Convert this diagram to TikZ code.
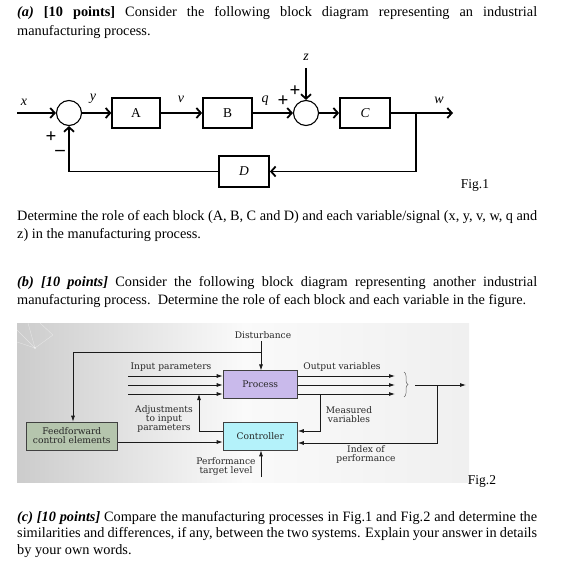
\documentclass[tikz,border=0pt]{standalone}
\usepackage{fontspec}
\setmainfont{Liberation Serif}
\newfontfamily\figfont{DejaVu Serif}
\usetikzlibrary{arrows.meta,decorations.pathreplacing}
\definecolor{proccol}{HTML}{C9BAEB}
\definecolor{ctrlcol}{HTML}{B4F2FA}
\definecolor{ffcol}{HTML}{B5C5AD}
\definecolor{fline}{HTML}{1A1A1A}
\begin{document}
\begin{tikzpicture}[x=1pt,y=-1pt,
  para/.style={anchor=base west, inner sep=0pt, text width=520pt, align=justify},
  blk/.style={draw, line width=1.8pt, minimum height=30pt, inner sep=0pt, font=\fontsize{13.5}{15}\selectfont},
  sumj/.style={circle, draw, line width=1.1pt, minimum size=25pt, inner sep=0pt},
  sig/.style={line width=1.8pt, -{Straight Barb[length=4.5pt,width=10pt]}},
  lbl/.style={font=\fontsize{14}{15}\selectfont\itshape, inner sep=0pt},
  pls/.style={font=\fontsize{19}{19}\selectfont\bfseries, inner sep=0pt},
  fbox/.style={draw=black!75, line width=0.6pt, minimum width=74.5pt, minimum height=27.5pt, inner sep=0pt, text=black!85, font=\figfont\fontsize{9.1}{9}\selectfont},
  ftxt/.style={font=\figfont\fontsize{9.1}{9.3}\selectfont, text=black!85, inner sep=0pt, align=center},
  arr/.style={draw=fline, line width=0.8pt, -{Latex[length=6pt,width=4pt]}},
  figl/.style={font=\fontsize{13.5}{14}\selectfont, inner sep=0pt},
  deco/.style={white, opacity=0.45, line width=0.4pt}
]
\useasboundingbox (0,0) rectangle (562,575);
\fill[white] (0,0) rectangle (562,575);

% ---------- texts ----------
\node[para, font=\fontsize{14.3}{18.5}\selectfont] (ta) at (17,16.7)
  {\textbf{\textit{(a)} [10 points]} Consider the following block diagram representing an industrial\linebreak manufacturing process.};
\node[para, font=\fontsize{14.3}{18}\selectfont] (td) at (17,220)
  {Determine the role of each block (A, B, C and D) and each variable/signal (x, y, v, w, q and\linebreak z) in the manufacturing process.};
\node[para, font=\fontsize{14.3}{18}\selectfont] (tb) at (17,286)
  {\textbf{\textit{(b) [10 points]}} Consider the following block diagram representing another industrial\linebreak manufacturing process.\ \ Determine the role of each block and each variable in the figure.};
\node[para, font=\fontsize{14.3}{16.7}\selectfont] (tc) at (17,521)
  {\textbf{\textit{(c) [10 points]}} Compare the manufacturing processes in Fig.1 and Fig.2 and determine the\linebreak similarities and differences, if any, between the two systems. Explain your answer in details\linebreak by your own words.};

% ---------- Fig.1 ----------
\node[sumj] (s1) at (69,113) {};
\node[sumj] (s2) at (306,113) {};
\node[blk, minimum width=47.5pt] (A) at (136,113) {A};
\node[blk, minimum width=49pt] (B) at (227.5,113) {B};
\node[blk, minimum width=50pt] (C) at (365,113) {\itshape C};
\node[blk, minimum width=50pt, minimum height=31pt] (D) at (244,171.5) {\itshape D};
\coordinate (xin) at (17,113);
\coordinate (wout) at (453,113);
\coordinate (br) at (416,113);
\coordinate (brd) at (416,171.5);
\coordinate (fb) at (69,171.5);
\coordinate (zin) at (306,68);
\draw[sig] (xin) -- (s1);
\draw[sig] (s1) -- (A);
\draw[sig] (A) -- (B);
\draw[sig] (B) -- (s2);
\draw[sig] (s2) -- (C);
\draw[sig] (C) -- (wout);
\draw[sig, line join=miter] (br) -- (brd) -- (D);
\draw[sig, line join=miter] (D) -- (fb) -- (s1);
\draw[sig] (zin) -- (s2);
\node[lbl] (lx) at (24,102) {x};
\node[lbl] (ly) at (93,99) {y};
\node[lbl] (lv) at (181,99) {v};
\node[lbl] (lq) at (265,101) {q};
\node[lbl] (lz) at (306,57) {z};
\node[lbl] (lw) at (439,100) {w};
\node[pls] (p1) at (283,101) {+};
\node[pls] (p2) at (295,91) {+};
\node[pls] (p3) at (51,137) {+};
\node[pls] (m1) at (60,153) {\textendash};
\node[figl] (f1) at (475,185) {Fig.1};

% ---------- Fig.2 ----------
\shade[left color=gray!40, right color=gray!12, middle color=gray!4] (17,323) rectangle (469,482);
\draw[deco] (17,330) -- (35,348) -- (53,335);
\draw[deco] (28,323) -- (35,348) -- (17,342);
\draw[deco] (40,323) -- (53,335);
\fill[white, opacity=0.5] (35,348) circle (1.2pt);
\node[fbox, fill=proccol] (proc) at (260.25,384.5) {Process};
\node[fbox, fill=ctrlcol, minimum height=28pt] (ctrl) at (260.25,436) {Controller};
\node[fbox, fill=ffcol, minimum width=91.6pt, minimum height=28pt, align=center] (ff) at (71.8,436) {Feedforward\\control elements};

\node[ftxt] (tdist) at (263,335) {Disturbance};
\node[ftxt] (tin) at (171,367) {Input parameters};
\node[ftxt] (tout) at (342,367) {Output variables};
\node[ftxt] (tmeas) at (349,414.5) {Measured\\variables};
\node[ftxt] (tadj) at (164,419) {Adjustments\\to input\\parameters};
\node[ftxt] (tidx) at (366,454.5) {Index of\\performance};
\node[ftxt] (tperf) at (226,466.5) {Performance\\target level};

\coordinate (dtop) at (261,341);
\coordinate (dbr) at (261,352);
\coordinate (ffc) at (73,352);
\draw[arr] (dtop) -- (dtop |- proc.north);
\draw[arr, line join=miter] (dbr) -- (ffc) -- (ffc |- ff.north);

\coordinate (in1) at (128,376);
\coordinate (in2) at (128,385);
\coordinate (in3) at (128,394);
\draw[arr] (in1) -- (in1 -| proc.west);
\draw[arr] (in2) -- (in2 -| proc.west);
\draw[arr] (in3) -- (in3 -| proc.west);
\coordinate (o1) at (395,376);
\coordinate (o2) at (395,385);
\coordinate (o3) at (395,394);
\draw[arr] (o1 -| proc.east) -- (o1);
\draw[arr] (o2 -| proc.east) -- (o2);
\draw[arr] (o3 -| proc.east) -- (o3);
\draw[black!60, line width=0.5pt, decorate, decoration={brace, amplitude=4pt}] (404,372) -- (404,397);

\coordinate (oa) at (415,385);
\coordinate (ob) at (466,385);
\draw[arr] (oa) -- (ob);
\coordinate (ib) at (437,385);
\coordinate (ic) at (437,443);
\draw[arr, line join=miter] (ib) -- (ic) -- (ic -| ctrl.east);

\coordinate (mv) at (320,394);
\coordinate (mc) at (320,431);
\draw[arr, line join=miter] (mv) -- (mc) -- (mc -| ctrl.east);

\coordinate (aj) at (199,431);
\coordinate (ajt) at (199,394);
\draw[arr, line join=miter] (aj -| ctrl.west) -- (aj) -- (ajt);

\coordinate (fc) at (118,442);
\draw[arr] (ff.east |- fc) -- (fc -| ctrl.west);

\coordinate (pt) at (261,477);
\draw[arr] (pt) -- (pt |- ctrl.south);

\node[figl] (f2) at (482,481) {Fig.2};
\end{tikzpicture}
\end{document}
